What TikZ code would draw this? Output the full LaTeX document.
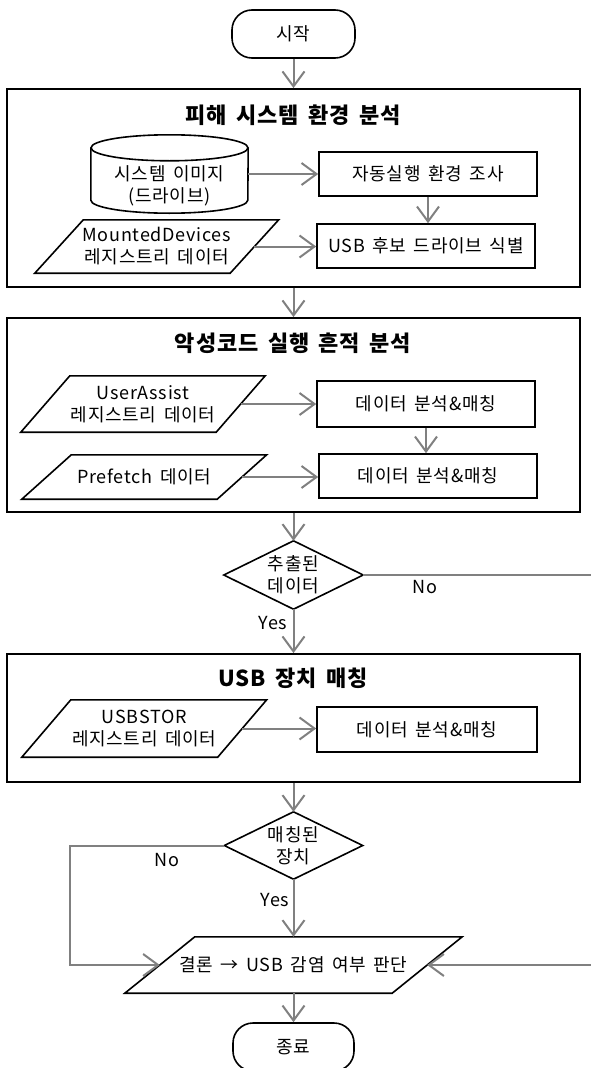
\documentclass[tikz,border=0pt]{standalone}
\usepackage{fontspec}
\setmainfont{Noto Sans CJK KR}[LetterSpace=4,WordSpace=1.6]
\usetikzlibrary{arrows.meta,calc}
\definecolor{ln}{HTML}{808080}
\newcommand\drawpara[2]{%
  \draw[shp] ($(#1.north west)+(#2,0)$) -- (#1.north east) -- ($(#1.south east)-(#2,0)$) -- (#1.south west) -- cycle;
  \coordinate (#1R) at ($(#1.east)-({#2/2},0)$);
  \coordinate (#1L) at ($(#1.west)+({#2/2},0)$);}
\newcommand\drawdia[1]{%
  \draw[shp] (#1.north) -- (#1.east) -- (#1.south) -- (#1.west) -- cycle;}
\begin{document}
\begin{tikzpicture}[x=1pt,y=-1pt,
  shp/.style={draw=black,line width=1.6pt},
  txt/.style={font=\fontsize{18}{22}\selectfont,align=center,inner sep=0pt},
  ttl/.style={font=\fontsize{22}{26}\selectfont\bfseries,inner sep=0pt},
  lbl/.style={font=\fontsize{18}{22}\selectfont,inner sep=0pt},
  procbox/.style={txt,draw=black,line width=1.6pt,minimum width=218pt,minimum height=44pt},
  frame/.style={draw=black,line width=1.8pt,minimum width=573pt,inner sep=0pt},
  term/.style={txt,draw=black,line width=1.6pt,rounded corners=20pt,minimum height=48pt},
  hold/.style={txt},
  arr/.style={draw=ln,line width=2pt,-{Straight Barb[length=15pt,width=22pt]}},
  conn/.style={draw=ln,line width=2pt}]
\useasboundingbox (0,0) rectangle (590,1068);

% start
\node[term,minimum width=123pt] (start) at (293.5,34) {시작};

% box 1
\node[frame,minimum height=198pt] (b1) at (293.75,188) {};
\node[ttl] (t1) at (293,115) {피해 시스템 환경 분석};
\node[minimum width=157pt,minimum height=78pt,inner sep=0pt] (cyl) at (169.5,174) {};
\draw[shp] ($(cyl.north)+(0,13)$) ellipse [x radius=78.5, y radius=13];
\draw[shp] ($(cyl.north west)+(0,13)$) -- ($(cyl.south west)+(0,-13)$)
  arc[start angle=180,end angle=0,x radius=78.5,y radius=13] -- ($(cyl.north east)+(0,13)$);
\node[txt] (cyltxt) at (169.5,186) {시스템 이미지\\(드라이브)};
\node[procbox] (auto) at (428,174) {자동실행 환경 조사};
\node[procbox] (cand) at (426,246) {USB 후보 드라이브 식별};
\node[hold,minimum width=243.5pt,minimum height=53pt] (md) at (156.75,246.5) {MountedDevices\\레지스트리 데이터};
\drawpara{md}{48.5}

% box 2
\node[frame,minimum height=194pt] (b2) at (293.75,415) {};
\node[ttl] (t2) at (293,343) {악성코드 실행 흔적 분석};
\node[hold,minimum width=244pt,minimum height=56pt] (ua) at (143,404) {UserAssist\\레지스트리 데이터};
\drawpara{ua}{49}
\node[procbox,minimum height=46pt] (m1) at (426,404) {데이터 분석\&매칭};
\node[hold,minimum width=244.5pt,minimum height=44pt] (pf) at (144.25,477) {Prefetch 데이터};
\drawpara{pf}{49.5}
\node[procbox] (m2) at (428,476) {데이터 분석\&매칭};

% decision 1
\node[txt,minimum width=139pt,minimum height=68pt] (d1) at (293.5,575) {추출된\\데이터};
\drawdia{d1}

% box 3
\node[frame,minimum height=128pt] (b3) at (293.75,718) {};
\node[ttl] (t3) at (293,678) {USB 장치 매칭};
\node[hold,minimum width=244.5pt,minimum height=57pt] (us) at (144.25,728.5) {USBSTOR\\레지스트리 데이터};
\drawpara{us}{49}
\node[procbox,minimum width=220pt,minimum height=45pt] (m3) at (427,729.5) {데이터 분석\&매칭};

% decision 2
\node[txt,minimum width=138pt,minimum height=67pt] (d2) at (293.5,845.5) {매칭된\\장치};
\drawdia{d2}

% conclusion
\node[hold,minimum width=337pt,minimum height=56pt] (cc) at (293.5,965) {결론 → USB 감염 여부 판단};
\drawpara{cc}{70}

% end
\node[term,minimum width=121pt] (end) at (293.5,1047) {종료};

% labels
\node[lbl] (no1) at (425,587) {No};
\node[lbl] (yes1) at (273,623) {Yes};
\node[lbl] (no2) at (167,860) {No};
\node[lbl] (yes2) at (275,900) {Yes};

% helper coordinates
\coordinate (rx) at (593,0);
\coordinate (lx) at (70,0);

% connectors
\draw[arr] (start.south) -- (start.south |- b1.north);
\draw[arr] (cyl.east |- auto.west) -- (auto.west);
\draw[arr] (auto.south) -- (auto.south |- cand.north);
\draw[arr] (mdR) -- (mdR -| cand.west);
\draw[arr] (b1.south -| start.south) -- (start.south |- b2.north);
\draw[arr] (uaR) -- (uaR -| m1.west);
\draw[arr] (m1.south) -- (m1.south |- m2.north);
\draw[arr] (pfR) -- (pfR -| m2.west);
\draw[arr] (b2.south -| d1.north) -- (d1.north);
\draw[arr] (d1.south) -- (d1.south |- b3.north);
\draw[arr] (usR) -- (usR -| m3.west);
\draw[arr] (b3.south -| d2.north) -- (d2.north);
\draw[arr] (d2.south) -- (d2.south |- cc.north);
\draw[arr] (d1.east) -- (d1.east -| rx) -- (rx |- ccR) -- (ccR);
\draw[arr] (d2.west) -- (d2.west -| lx) -- (lx |- ccL) -- (ccL);
\draw[arr] (cc.south) -- (cc.south |- end.north);
\end{tikzpicture}
\end{document}
